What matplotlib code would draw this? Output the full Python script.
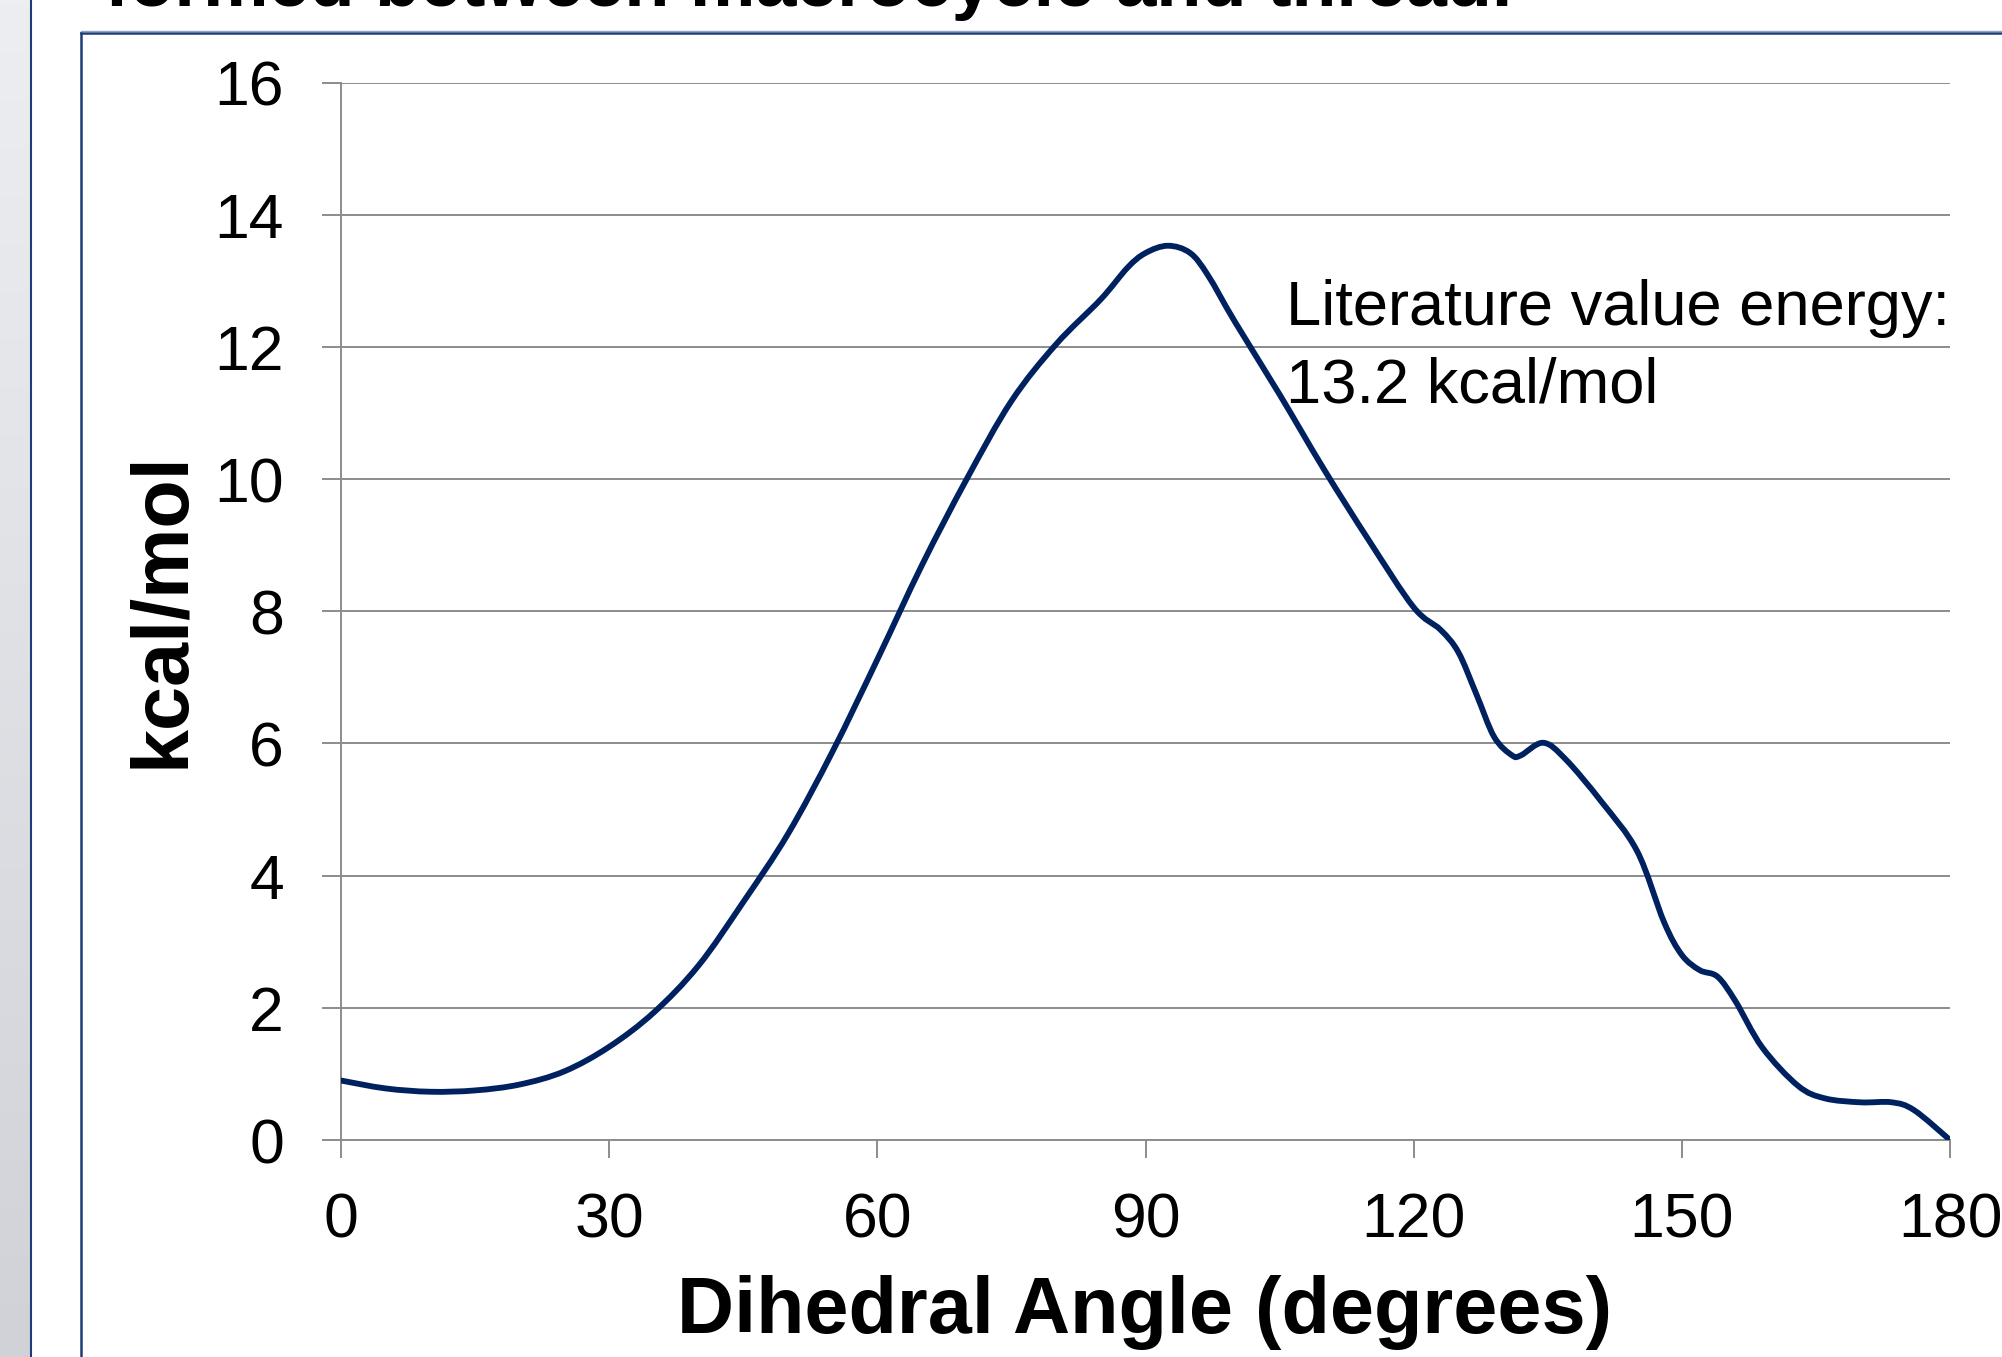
import matplotlib
matplotlib.use("Agg")
import matplotlib.pyplot as plt
import numpy as np
from matplotlib.lines import Line2D
from matplotlib.path import Path
from matplotlib.patches import PathPatch
from matplotlib.colors import LinearSegmentedColormap

plt.rcParams['font.family'] = ['Liberation Sans', 'DejaVu Sans']

# ---- data ----
angle_deg = [0, 5, 10, 15, 20, 25, 30, 35, 40, 45, 50, 55, 60, 65, 70, 75, 80, 85,
             88, 90, 92.5, 95, 97, 100, 105, 110, 115, 120, 123, 125, 127, 129, 131,
             132, 134.5, 137, 141, 145, 148, 150, 152, 154, 156, 159, 163, 166, 170,
             173.5, 176, 180]
energy_kcal = [0.90, 0.78, 0.73, 0.75, 0.84, 1.04, 1.41, 1.93, 2.64, 3.60, 4.63, 5.88,
               7.27, 8.70, 10.0, 11.18, 12.04, 12.72, 13.20, 13.42, 13.53, 13.42, 13.08,
               12.38, 11.28, 10.14, 9.07, 8.06, 7.72, 7.38, 6.75, 6.10, 5.82, 5.82, 6.01,
               5.76, 5.12, 4.37, 3.30, 2.80, 2.57, 2.47, 2.10, 1.40, 0.82, 0.63, 0.57,
               0.57, 0.45, 0.0]
x_ticks = [0, 30, 60, 90, 120, 150, 180]
y_ticks = [0, 2, 4, 6, 8, 10, 12, 14, 16]
x_label = "Dihedral Angle (degrees)"
y_label = "kcal/mol"
note_lines = ["Literature value energy:", "13.2 kcal/mol"]
title_text = "formed between macrocycle and thread."

W, H = 2002, 1357
fig = plt.figure(figsize=(W / 100, H / 100), dpi=100)
fig.patch.set_facecolor('white')

# left gray slide strip
strip = fig.add_axes([0, 0, 30 / W, 1])
grad = np.linspace(0, 1, 256).reshape(-1, 1)
cm = LinearSegmentedColormap.from_list('g', ['#EDEEF1', '#D0D2D8'])
strip.imshow(grad, aspect='auto', cmap=cm, extent=[0, 1, 0, 1], origin='upper')
strip.set_axis_off()


def fx(px):
    return px / W


def fy(py):
    return 1 - py / H


fig.add_artist(Line2D([fx(31), fx(31)], [0, 1], color='#1F3C78', lw=1.5))
# chart box
fig.add_artist(Line2D([fx(81), fx(81)], [0, fy(33)], color='#1F3C78', lw=1.8))
fig.add_artist(Line2D([fx(81), 1], [fy(33), fy(33)], color='#1F3C78', lw=1.8))
fig.add_artist(Line2D([fx(81), 1], [fy(31), fy(31)], color='#8FA3C8', lw=1.0))

# partial slide title (cut off at the top edge, as in the reference)
fig.text(fx(105), fy(6), title_text, fontsize=53, fontweight='bold',
         ha='left', va='baseline', color='black')

# main axes
left, right, top, bottom = 341, 1950, 82.5, 1140
ax = fig.add_axes([fx(left), fy(bottom), (right - left) / W, (bottom - top) / H])
ax.set_xlim(0, 180)
ax.set_ylim(0, 16)

# smoothed line (Excel style) drawn as cubic Bezier through the data points
xs = np.asarray(angle_deg, float)
ys = np.asarray(energy_kcal, float)
verts = [(xs[0], ys[0])]
codes = [Path.MOVETO]
n = len(xs)
for i in range(n - 1):
    p0 = np.array([xs[max(i - 1, 0)], ys[max(i - 1, 0)]])
    p1 = np.array([xs[i], ys[i]])
    p2 = np.array([xs[i + 1], ys[i + 1]])
    p3 = np.array([xs[min(i + 2, n - 1)], ys[min(i + 2, n - 1)]])
    c1 = p1 + (p2 - p0) / 6.0
    c2 = p2 - (p3 - p1) / 6.0
    verts += [tuple(c1), tuple(c2), tuple(p2)]
    codes += [Path.CURVE4] * 3
curve = PathPatch(Path(verts, codes), facecolor='none', edgecolor='#00215F',
                  lw=4.2, capstyle='round', joinstyle='round', zorder=3,
                  transform=ax.transData)
ax.add_patch(curve)

ax.set_xticks(x_ticks)
ax.set_yticks(y_ticks)
ax.set_xticklabels([str(v) for v in x_ticks])
ax.set_yticklabels([str(v) for v in y_ticks])
gray = '#8C8C8C'
ax.grid(axis='y', color=gray, lw=1.4)
ax.set_axisbelow(True)
for s in ['top', 'right']:
    ax.spines[s].set_visible(False)
for s in ['left', 'bottom']:
    ax.spines[s].set_color(gray)
    ax.spines[s].set_linewidth(1.4)
ax.tick_params(axis='y', length=14, width=1.4, color=gray, pad=27, labelsize=45)
ax.tick_params(axis='x', length=13, width=1.4, color=gray, pad=24, labelsize=45)
ax.set_facecolor('none')

fig.text(fx(1145), fy(1333), x_label, fontsize=57, fontweight='bold',
         ha='center', va='baseline')
fig.text(fx(163), fy(610), y_label, fontsize=57, fontweight='bold',
         ha='center', va='center', rotation=90)

fig.text(fx(1286), fy(325), note_lines[0], fontsize=45.5, ha='left', va='baseline')
fig.text(fx(1286), fy(402), note_lines[1], fontsize=45.5, ha='left', va='baseline')

fig.savefig('out.png', dpi=100, facecolor='white')
